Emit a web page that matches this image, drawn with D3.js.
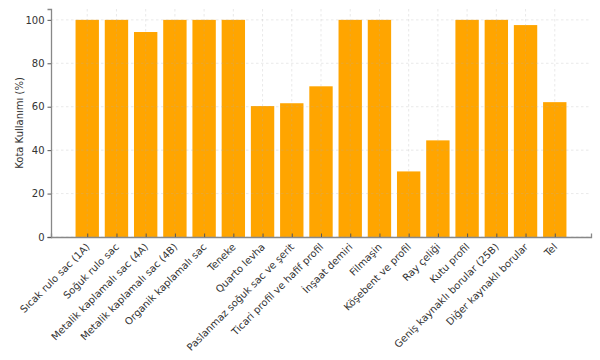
<!DOCTYPE html>
<html>
<head>
<meta charset="utf-8">
<script src="https://cdn.jsdelivr.net/npm/d3@7"></script>
<style>
  body { margin: 0; background: #fff; }
  text { font-family: "DejaVu Sans", sans-serif; fill: #333; }
</style>
</head>
<body>
<div id="chart"></div>
<script>
// Categories and quota usage values (%)
const categories = [
  "Sıcak rulo sac (1A)", "Soğuk rulo sac", "Metalik kaplamalı sac (4A)",
  "Metalik kaplamalı sac (4B)", "Organik kaplamalı sac", "Teneke",
  "Quarto levha", "Paslanmaz soğuk sac ve şerit", "Ticari profil ve hafif profil",
  "İnşaat demiri", "Filmaşin", "Köşebent ve profil", "Ray çeliği",
  "Kutu profil", "Geniş kaynaklı borular (25B)", "Diğer kaynaklı borular", "Tel"
];
const usage = [100, 100, 94.4, 100, 100, 100, 60.3, 61.6, 69.4, 100, 100, 30.2, 44.5, 100, 100, 97.6, 62.1];
const yTicks = [0, 20, 40, 60, 80, 100];

const width = 600, height = 360;
const margin = { top: 9, right: 9, bottom: 123, left: 51 };

const svg = d3.select("#chart").append("svg")
  .attr("width", width)
  .attr("height", height);

// x scale mimics bar width 0.8 with 5% margins
const n = categories.length;
const pad = 0.4 + 0.05 * (n - 1 + 0.8);
const x = d3.scaleLinear()
  .domain([-pad, n - 1 + pad])
  .range([margin.left, width - margin.right]);
const bw = x(0.8) - x(0);

const y = d3.scaleLinear()
  .domain([0, 105])
  .range([height - margin.bottom, margin.top]);

// Bars
svg.selectAll(".bar")
  .data(usage)
  .enter().append("rect")
  .attr("class", "bar")
  .attr("x", (d, i) => x(i) - bw / 2)
  .attr("y", d => y(d))
  .attr("width", bw)
  .attr("height", d => y(0) - y(d))
  .attr("fill", "#ffa500");

// Grid on top
const grid = svg.append("g")
  .attr("stroke", "#b0b0b0")
  .attr("stroke-opacity", 0.35)
  .attr("stroke-dasharray", "2.5,2.5")
  .attr("stroke-width", 0.8);
grid.selectAll(".gy").data(yTicks).enter().append("line")
  .attr("x1", margin.left).attr("x2", width - margin.right)
  .attr("y1", d => y(d)).attr("y2", d => y(d));
grid.selectAll(".gx").data(d3.range(n)).enter().append("line")
  .attr("x1", d => x(d)).attr("x2", d => x(d))
  .attr("y1", margin.top).attr("y2", y(0));

// Y axis
const yAxis = svg.append("g")
  .attr("transform", `translate(${margin.left},0)`)
  .call(d3.axisLeft(y).tickValues(yTicks).tickSize(3.5).tickPadding(3));
yAxis.select(".domain").attr("stroke", "#888").attr("stroke-width", 1.3);
yAxis.selectAll(".tick line").attr("stroke", "#555");
yAxis.selectAll("text").attr("font-size", 10).attr("fill", "#333");

// X axis
const xAxis = svg.append("g")
  .attr("transform", `translate(0,${y(0)})`)
  .call(d3.axisBottom(x).tickValues(d3.range(n)).tickSize(-3.5).tickFormat(i => categories[i]));
xAxis.select(".domain").attr("stroke", "#888").attr("stroke-width", 1.3);
xAxis.selectAll(".tick line").attr("stroke", "#555");
xAxis.selectAll("text")
  .attr("font-size", 10)
  .attr("fill", "#333")
  .attr("text-anchor", "end")
  .attr("dy", "0.35em")
  .attr("transform", "translate(-2,6) rotate(-45)");

// Y label
svg.append("text")
  .attr("transform", `translate(23,${(y(0) + margin.top) / 2}) rotate(-90)`)
  .attr("text-anchor", "middle")
  .attr("font-size", 10)
  .text("Kota Kullanımı (%)");
</script>
</body>
</html>
